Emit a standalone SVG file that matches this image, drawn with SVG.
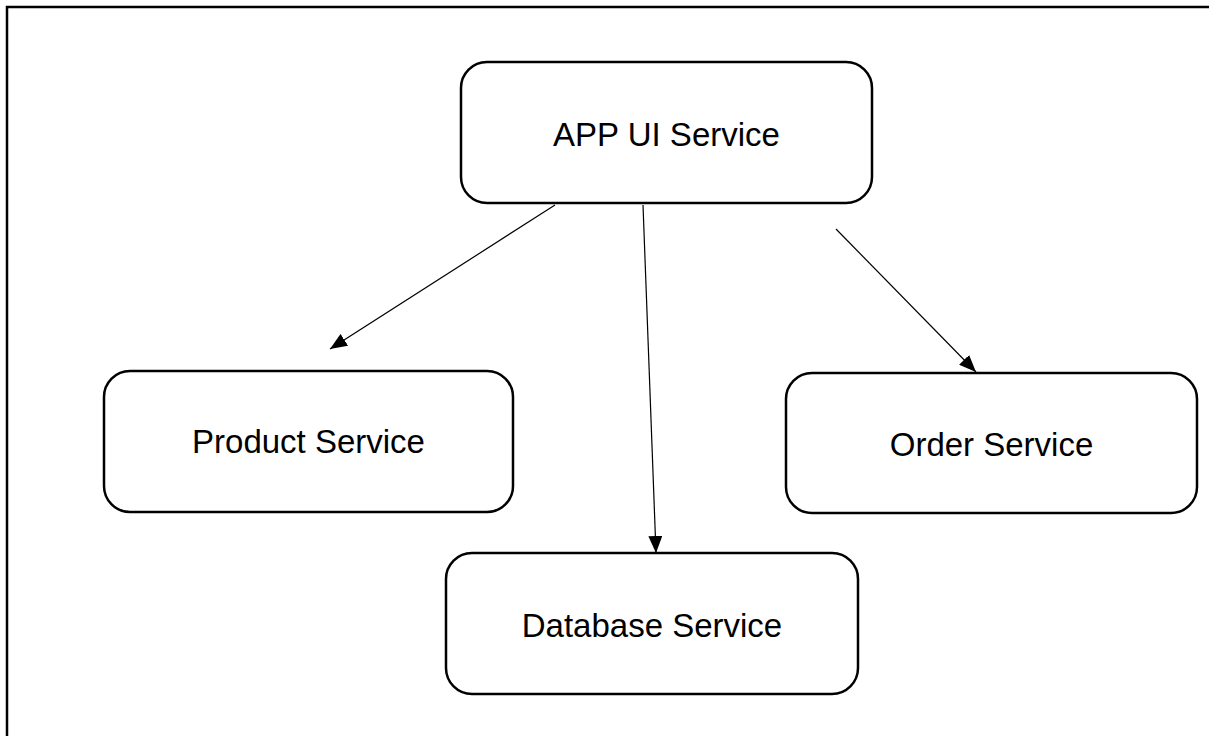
<svg xmlns="http://www.w3.org/2000/svg" width="1209" height="736" viewBox="0 0 1209 736">
  <style>
    .box { fill: #ffffff; stroke: #000000; stroke-width: 2.5; }
    .label { font-family: "Liberation Sans", Arial, sans-serif; font-size: 33px; fill: #000000; text-anchor: middle; }
    .edge { stroke: #000000; stroke-width: 1.2; fill: none; marker-end: url(#arrow); }
  </style>
  <defs>
    <marker id="arrow" markerUnits="userSpaceOnUse" markerWidth="18" markerHeight="14" refX="17" refY="7" orient="auto">
      <path d="M0,0 L17,7 L0,14 Z" fill="#000000"/>
    </marker>
  </defs>

  <rect width="1209" height="736" fill="#ffffff"/>

  <!-- outer frame (top and left edges) -->
  <path d="M7,736 V7 H1209" fill="none" stroke="#000000" stroke-width="2.5"/>

  <g id="connectors">
    <line class="edge" x1="555" y1="205" x2="330" y2="349"/>
    <line class="edge" x1="643" y1="205" x2="656" y2="553"/>
    <line class="edge" x1="836" y1="229" x2="976" y2="372"/>
  </g>

  <g id="app-ui-service">
    <rect class="box" x="461" y="62" width="411" height="141" rx="26" ry="26"/>
    <text class="label" x="666.5" y="146">APP UI Service</text>
  </g>

  <g id="product-service">
    <rect class="box" x="104" y="371" width="409" height="141" rx="26" ry="26"/>
    <text class="label" x="308.5" y="453">Product Service</text>
  </g>

  <g id="order-service">
    <rect class="box" x="786" y="373" width="411" height="140" rx="26" ry="26"/>
    <text class="label" x="991.5" y="456">Order Service</text>
  </g>

  <g id="database-service">
    <rect class="box" x="446" y="553" width="412" height="141" rx="26" ry="26"/>
    <text class="label" x="652" y="637">Database Service</text>
  </g>
</svg>
